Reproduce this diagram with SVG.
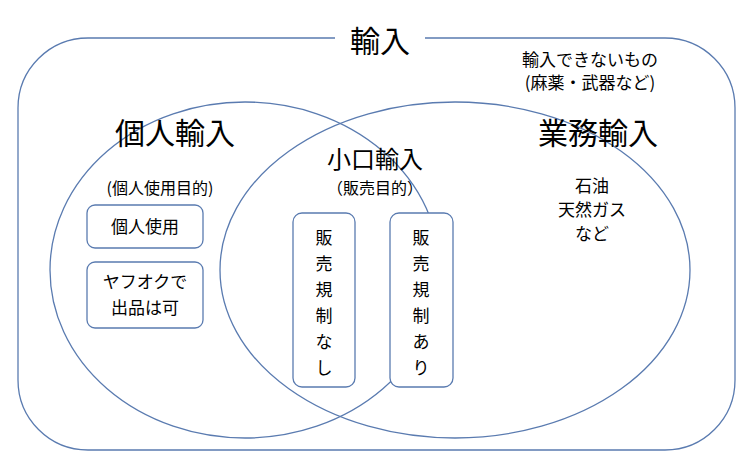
<svg xmlns="http://www.w3.org/2000/svg" width="750" height="469" viewBox="0 0 750 469">
<style>
.s{fill:none;stroke:#5a7bb0;stroke-width:1.3}
.b{fill:#fff;stroke:#5a7bb0;stroke-width:1.3}
text{font-family:"Noto Sans CJK JP","Liberation Sans",sans-serif;fill:#000;text-anchor:middle}
.v{font-size:17px}
</style>
<rect width="750" height="469" fill="#fff"/>
<g id="outer"><rect class="s" x="18" y="38" width="717" height="412" rx="70"/>
<rect x="335" y="25" width="90" height="30" fill="#fff"/>
<text x="380" y="52" font-size="30">輸入</text>
<text x="590" y="66" font-size="17">輸入できないもの</text>
<text x="590" y="89" font-size="17">(麻薬・武器など)</text></g>
<g id="connectors"></g>
<g id="personal"><ellipse class="s" cx="245" cy="270" rx="195" ry="168"/>
<text x="175" y="144" font-size="30">個人輸入</text>
<text x="160" y="194" font-size="16">(個人使用目的)</text>
<rect class="b" x="87" y="205" width="116" height="43" rx="8"/>
<text x="145" y="233" font-size="17">個人使用</text>
<rect class="b" x="87" y="262" width="116" height="66" rx="8"/>
<text x="145" y="288" font-size="17">ヤフオクで</text>
<text x="145" y="314" font-size="17">出品は可</text></g>
<g id="business"><ellipse class="s" cx="455" cy="270" rx="235" ry="168"/>
<text x="598" y="144" font-size="30">業務輸入</text>
<text x="592" y="192" font-size="17">石油</text>
<text x="592" y="216" font-size="17">天然ガス</text>
<text x="592" y="240" font-size="17">など</text></g>
<g id="small"><text x="375" y="168" font-size="24">小口輸入</text>
<text x="375" y="194" font-size="16">（販売目的）</text>
<rect class="b" x="293" y="213" width="62" height="174" rx="9"/>
<text class="v" x="324" y="244">販</text><text class="v" x="324" y="270">売</text><text class="v" x="324" y="296">規</text><text class="v" x="324" y="322">制</text><text class="v" x="324" y="348">な</text><text class="v" x="324" y="374">し</text>
<rect class="b" x="390" y="213" width="63" height="174" rx="9"/>
<text class="v" x="421" y="244">販</text><text class="v" x="421" y="270">売</text><text class="v" x="421" y="296">規</text><text class="v" x="421" y="322">制</text><text class="v" x="421" y="348">あ</text><text class="v" x="421" y="374">り</text></g>
</svg>
